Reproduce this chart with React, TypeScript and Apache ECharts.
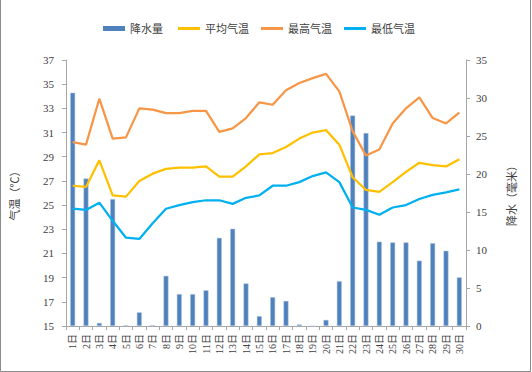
import React, { useEffect, useRef } from "react";
import * as echarts from "echarts";

const days = Array.from({ length: 30 }, (_, i) => `${i + 1}日`);

const precipitation = [
  30.7, 19.4, 0.4, 16.7, 0.1, 1.8, 0.1, 6.6, 4.2, 4.2,
  4.7, 11.6, 12.8, 5.6, 1.3, 3.8, 3.3, 0.2, 0, 0.8,
  5.9, 27.7, 25.4, 11.1, 11.0, 11.0, 8.6, 10.9, 9.9, 6.4,
];

const avgTemp = [
  26.6, 26.5, 28.7, 25.8, 25.7, 27.0, 27.6, 28.0, 28.1, 28.1,
  28.2, 27.35, 27.35, 28.2, 29.2, 29.3, 29.8, 30.5, 31.0, 31.2,
  30.0, 27.3, 26.25, 26.1, 26.9, 27.75, 28.5, 28.3, 28.2, 28.8,
];

const maxTemp = [
  30.2, 30.0, 33.8, 30.5, 30.6, 33.0, 32.9, 32.6, 32.6, 32.8,
  32.8, 31.05, 31.35, 32.2, 33.5, 33.3, 34.5, 35.1, 35.5, 35.85,
  34.4, 31.1, 29.1, 29.6, 31.75, 33.0, 33.9, 32.2, 31.75, 32.65,
];

const minTemp = [
  24.7, 24.6, 25.2, 23.7, 22.3, 22.2, 23.5, 24.7, 25.0, 25.25,
  25.4, 25.4, 25.1, 25.6, 25.8, 26.6, 26.6, 26.9, 27.4, 27.7,
  26.9, 24.8, 24.6, 24.2, 24.8, 25.0, 25.5, 25.85, 26.05, 26.3,
];

const FONT = "'Liberation Serif', 'Noto Sans CJK SC', serif";
const TEXT = "#404040";
const AXIS = "#a6a6a6";

export default function App() {
  const ref = useRef<HTMLDivElement>(null);

  useEffect(() => {
    if (!ref.current) return;
    const chart = echarts.init(ref.current, null, { renderer: "svg" });
    const legendText = { fontSize: 11, color: TEXT, fontFamily: FONT };
    chart.setOption({
      animation: false,
      backgroundColor: "#ffffff",
      textStyle: { fontFamily: FONT },
      legend: [
        {
          top: 18,
          left: 98,
          itemWidth: 22,
          itemHeight: 5,
          textStyle: legendText,
          itemStyle: { borderWidth: 0 },
          data: [{ name: "降水量", icon: "rect" }],
        },
        {
          top: 18,
          left: 173,
          itemWidth: 22,
          itemHeight: 3,
          itemGap: 12,
          textStyle: legendText,
          data: [
            { name: "平均气温", icon: "rect" },
            { name: "最高气温", icon: "rect" },
            { name: "最低气温", icon: "rect" },
          ],
        },
      ],
      grid: { left: 66, right: 66, top: 60, bottom: 46 },
      xAxis: {
        type: "category",
        data: days,
        boundaryGap: true,
        axisLine: { lineStyle: { color: AXIS, width: 1 } },
        axisTick: { show: true, alignWithLabel: false, length: 4, lineStyle: { color: AXIS } },
        axisLabel: {
          rotate: 90,
          interval: 0,
          fontSize: 10,
          color: TEXT,
          fontFamily: FONT,
          margin: 8,
        },
      },
      yAxis: [
        {
          type: "value",
          min: 15,
          max: 37,
          interval: 2,
          name: "气温（℃）",
          nameLocation: "middle",
          nameGap: 46,
          nameRotate: 90,
          nameTextStyle: { fontSize: 11, color: TEXT, fontFamily: FONT },
          axisLine: { show: true, lineStyle: { color: AXIS } },
          axisTick: { show: true, length: 4, lineStyle: { color: AXIS } },
          splitLine: { show: false },
          axisLabel: { fontSize: 11, color: TEXT, fontFamily: FONT, margin: 12 },
        },
        {
          type: "value",
          min: 0,
          max: 35,
          interval: 5,
          name: "降水（毫米）",
          nameLocation: "middle",
          nameGap: 40,
          nameRotate: 90,
          nameTextStyle: { fontSize: 11, color: TEXT, fontFamily: FONT },
          axisLine: { show: true, lineStyle: { color: AXIS } },
          axisTick: { show: true, length: 4, lineStyle: { color: AXIS } },
          splitLine: { show: false },
          axisLabel: { fontSize: 11, color: TEXT, fontFamily: FONT, margin: 10 },
        },
      ],
      series: [
        {
          name: "降水量",
          type: "bar",
          yAxisIndex: 1,
          data: precipitation,
          barWidth: 5,
          itemStyle: { color: "#4F81BD", borderColor: "#b9cde5", borderWidth: 0.5 },
          z: 1,
        },
        {
          name: "平均气温",
          type: "line",
          data: avgTemp,
          symbol: "none",
          lineStyle: { color: "#FFC000", width: 2.25 },
          itemStyle: { color: "#FFC000" },
          z: 3,
        },
        {
          name: "最高气温",
          type: "line",
          data: maxTemp,
          symbol: "none",
          lineStyle: { color: "#F79646", width: 2.25 },
          itemStyle: { color: "#F79646" },
          z: 3,
        },
        {
          name: "最低气温",
          type: "line",
          data: minTemp,
          symbol: "none",
          lineStyle: { color: "#00B0F0", width: 2.25 },
          itemStyle: { color: "#00B0F0" },
          z: 3,
        },
      ],
      graphic: [
        {
          type: "polyline",
          shape: { points: [[0.5, 0], [0.5, 371.5], [530.5, 371.5], [530.5, 0]] },
          style: { stroke: "#8c8c8c", lineWidth: 1, fill: null },
          silent: true,
        },
      ],
    });
    return () => chart.dispose();
  }, []);

  return (
    <div
      ref={ref}
      style={{ position: "fixed", left: 0, top: 0, width: 532, height: 372 }}
    />
  );
}
